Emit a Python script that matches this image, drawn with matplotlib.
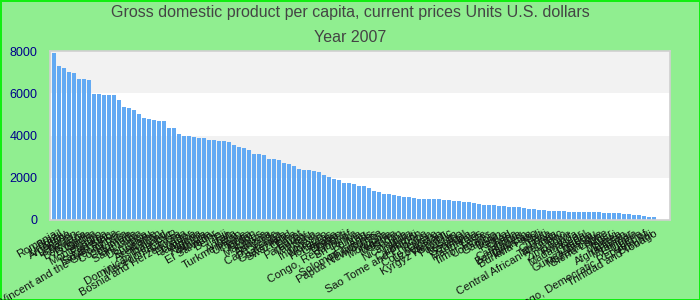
import matplotlib
matplotlib.use("Agg")
import matplotlib.pyplot as plt
import numpy as np

plt.rcParams['font.family'] = ['Liberation Sans', 'DejaVu Sans']

TITLE = "Gross domestic product per capita, current prices Units U.S. dollars"
SUBTITLE = "Year 2007"

countries = [
    "Romania", "Brazil", "Uruguay", "Argentina", "Lebanon", "Belarus", "Botswana",
    "Bulgaria", "Serbia", "Montenegro", "Panama", "Kazakhstan", "South Africa",
    "Saint Vincent and the Grenadines", "Costa Rica", "Colombia", "Grenada",
    "Saint Lucia", "Dominica", "Peru", "Suriname", "Azerbaijan", "Thailand",
    "Dominican Republic", "Macedonia, FYR", "Tunisia", "Bosnia and Herzegovina",
    "Ecuador", "Jamaica", "Algeria", "Namibia", "Albania", "El Salvador", "Belize",
    "Fiji", "Iran", "Angola", "Turkmenistan", "Ukraine", "Tonga", "Jordan",
    "Maldives", "Samoa", "Armenia", "Cape Verde", "Georgia", "Guatemala",
    "Swaziland", "China", "Egypt", "Paraguay", "Vanuatu", "Syria", "Indonesia",
    "Morocco", "Honduras", "Guyana", "Bhutan", "Kiribati", "Congo, Republic of",
    "Sri Lanka", "Bolivia", "Iraq", "Solomon Islands", "Philippines",
    "Papua New Guinea", "Mongolia", "Nigeria", "Moldova", "Sudan", "Nicaragua",
    "India", "Djibouti", "Cameroon", "Sao Tome and Principe", "Yemen",
    "Cote d'Ivoire", "Uzbekistan", "Vietnam", "Kyrgyz Republic", "Pakistan",
    "Lesotho", "Senegal", "Zambia", "Mauritania", "Laos", "Timor-Leste", "Comoros",
    "Gambia", "Benin", "Kenya", "Chad", "Ghana", "Cambodia", "Bangladesh",
    "Tajikistan", "Burkina Faso", "Mali", "Haiti", "Guinea", "Tanzania",
    "Central African Republic", "Togo", "Zimbabwe", "Rwanda", "Madagascar", "Nepal",
    "Uganda", "Guinea-Bissau", "Mozambique", "Sierra Leone", "Niger", "Malawi",
    "Eritrea", "Afghanistan", "Myanmar", "Ethiopia", "Liberia",
    "Congo, Democratic Republic of", "Burundi", "Trinidad and Tobago",
]

gdp = [
    7920, 7300, 7200, 7020, 6970, 6680, 6680, 6640, 5970, 5970, 5930, 5930, 5930,
    5690, 5360, 5310, 5210, 5020, 4840, 4790, 4740, 4690, 4690, 4360, 4360, 4080,
    3980, 3980, 3930, 3890, 3890, 3790, 3790, 3750, 3750, 3700, 3560, 3460, 3410,
    3320, 3130, 3130, 3080, 2890, 2890, 2840, 2700, 2650, 2560, 2420, 2370, 2370,
    2320, 2280, 2130, 2040, 1940, 1900, 1750, 1750, 1710, 1610, 1610, 1520, 1380,
    1330, 1230, 1230, 1190, 1140, 1090, 1090, 1040, 1000, 1000, 1000, 1000, 1000,
    950, 950, 900, 900, 850, 850, 810, 760, 710, 710, 710, 660, 660, 620, 620, 620,
    570, 520, 520, 470, 470, 430, 430, 430, 430, 380, 380, 380, 380, 380, 380, 380,
    330, 330, 330, 330, 280, 280, 240, 240, 190, 140, 140,
]

yticks = [0, 2000, 4000, 6000, 8000]

fig = plt.figure(figsize=(7, 3), dpi=100)
fig.patch.set_facecolor('#90ee90')
fig.patch.set_edgecolor('#11ee11')
fig.patch.set_linewidth(2)

ax = fig.add_axes([0.0714, 0.2667, 0.886, 0.563])
ax.set_facecolor('white')

# alternating bands
for i in range(len(yticks) - 1):
    if i % 2 == 1:
        ax.axhspan(yticks[i], yticks[i + 1], color='#f2f2f2', zorder=0, lw=0)

x = np.arange(len(gdp))
ax.bar(x, gdp, width=0.8, color='#63aaf3', zorder=2)

ax.set_xlim(-0.8, len(gdp) + 2.2)
ax.set_ylim(0, 8000)
ax.set_yticks(yticks)
ax.set_yticklabels([str(v) for v in yticks], color='#00008b', fontsize=9)
ax.tick_params(axis='y', length=0, pad=9)

ax.set_xticks(x)
ax.set_xticklabels(countries, rotation=30, ha='right', va='top',
                   rotation_mode='anchor', fontsize=8, color='#111111')
ax.tick_params(axis='x', length=0, pad=6)

for s in ax.spines.values():
    s.set_color('#d0d0d0')
    s.set_linewidth(1.2)

fig.text(0.5, 0.96, TITLE, ha='center', va='center', fontsize=11.5, color='#444444')
fig.text(0.5, 0.875, SUBTITLE, ha='center', va='center', fontsize=11.5, color='#444444')

fig.savefig('out.png', dpi=100, facecolor=fig.get_facecolor(), edgecolor=fig.get_edgecolor())
